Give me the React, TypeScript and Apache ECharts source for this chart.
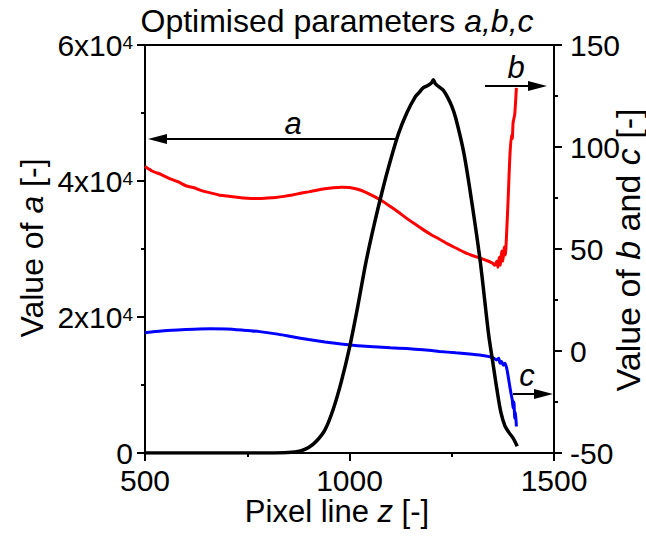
import React, { useEffect, useRef } from "react";
import * as echarts from "echarts";

// Series a (left axis)
const aZ = [500, 600, 700, 800, 850, 880, 900, 920, 940, 960, 980, 1000, 1020, 1040, 1060, 1080, 1100, 1120, 1140, 1160, 1170, 1180, 1190, 1200, 1205, 1210, 1220, 1230, 1240, 1250, 1260, 1280, 1300, 1320, 1340, 1350, 1360, 1370, 1380, 1390, 1400, 1410];
const aVals = [0, 0, 0, 0, 60, 300, 800, 1800, 3400, 6400, 10500, 15500, 21500, 28000, 33500, 38500, 43000, 47000, 50000, 52300, 53000, 53700, 54000, 54400, 54900, 54300, 53800, 53300, 52300, 51000, 49200, 44000, 36500, 28000, 17500, 13500, 9500, 6000, 4000, 3000, 2200, 1000];

// Series b (right axis)
const bZ = [500, 520, 540, 560, 580, 600, 620, 640, 660, 680, 700, 720, 740, 760, 780, 800, 820, 840, 860, 880, 900, 920, 940, 960, 980, 1000, 1020, 1040, 1060, 1080, 1100, 1120, 1140, 1160, 1180, 1200, 1220, 1240, 1260, 1280, 1300, 1320, 1340, 1350, 1355, 1360, 1363, 1366, 1369, 1372, 1375, 1378, 1381, 1384, 1388, 1392, 1396, 1398, 1400, 1404, 1408];
const bVals = [90.5, 88, 86.5, 84.5, 83, 81, 80, 78.5, 77.5, 76.5, 76, 75.5, 75, 74.8, 74.8, 75, 75.3, 75.8, 76.5, 77.3, 78, 78.8, 79.5, 80, 80.3, 80.2, 79.3, 77.8, 75.8, 73.5, 70.8, 68, 65, 62.2, 59.5, 57, 54.8, 52.5, 50.5, 48.5, 46.8, 45.5, 44, 43, 42, 44, 41, 46, 42, 49, 44, 51, 47, 57, 75, 95, 106, 104, 112, 116, 129];

// Series c (right axis)
const cZ = [500, 540, 580, 620, 660, 700, 740, 780, 820, 860, 900, 940, 980, 1020, 1060, 1100, 1140, 1180, 1220, 1260, 1300, 1330, 1350, 1360, 1365, 1368, 1372, 1376, 1380, 1385, 1390, 1395, 1398, 1400, 1402, 1404, 1406, 1408];
const cVals = [9, 9.8, 10.3, 10.7, 10.9, 10.8, 10.2, 9.5, 8.4, 7, 5.6, 4.4, 3.4, 2.6, 2.1, 1.6, 1.2, 0.6, -0.2, -0.9, -1.6, -2.3, -3.2, -4.4, -3.5, -6, -5.2, -7, -6, -9, -15, -21, -24, -28, -25, -33, -30, -37];

const FONT = "Liberation Sans, Arial, sans-serif";

const pairs = (xs: number[], ys: number[]) => xs.map((x, i) => [x, ys[i]]);

export default function App() {
  const ref = useRef<HTMLDivElement>(null);
  useEffect(() => {
    if (!ref.current) return;
    const chart = echarts.init(ref.current, undefined, { renderer: "svg" });
    const axisCommon = {
      axisLine: { show: true, lineStyle: { color: "#000", width: 2 } },
      axisTick: { show: true, length: 8, lineStyle: { color: "#000", width: 2 } },
      minorTick: { show: true, splitNumber: 2, length: 4, lineStyle: { color: "#000", width: 2 } },
      splitLine: { show: false },
      minorSplitLine: { show: false },
    };
    const labelStyle = { color: "#000", fontSize: 30, fontFamily: FONT, lineHeight: 24 };
    const rich = {
      n: { fontSize: 30, fontFamily: FONT, color: "#000", lineHeight: 24 },
      i: { fontSize: 30, fontFamily: FONT, fontStyle: "italic", color: "#000" },
      sup: { fontSize: 19, fontFamily: FONT, color: "#000", verticalAlign: "top", lineHeight: 14, padding: [0, 0, 12, 0] },
    };
    const arrow = (x1: number, x2: number, y: number, dir: number) => {
      const tip = x2;
      const base = tip - dir * 19;
      return [
        { type: "line", shape: { x1, y1: y, x2: base, y2: y }, style: { stroke: "#000", lineWidth: 2 } },
        { type: "polygon", shape: { points: [[tip, y], [base, y - 5], [base, y + 5]] }, style: { fill: "#000" } },
      ];
    };
    chart.setOption({
      animation: false,
      grid: { left: 145, right: 92, top: 45, bottom: 83, show: true, borderColor: "#000", borderWidth: 2, containLabel: false },
      xAxis: {
        type: "value", min: 500, max: 1500, interval: 500,
        ...axisCommon,
        axisLabel: { ...labelStyle, margin: 15, formatter: (v: number) => String(v) },
      },
      yAxis: [
        {
          type: "value", min: 0, max: 60000, interval: 20000, position: "left",
          ...axisCommon,
          axisLabel: {
            margin: 12,
            formatter: (v: number) => (v === 0 ? "{n|0}" : `{n|${v / 10000}x10}{sup|4}`),
            rich,
          },
        },
        {
          type: "value", min: -50, max: 150, interval: 50, position: "right",
          ...axisCommon,
          axisLabel: { ...labelStyle, margin: 16, formatter: (v: number) => String(v) },
        },
      ],
      series: [
        { type: "line", name: "b", yAxisIndex: 1, data: pairs(bZ, bVals), showSymbol: false, symbol: "none", lineStyle: { color: "#ff0000", width: 3 }, smooth: 0.2 },
        { type: "line", name: "c", yAxisIndex: 1, data: pairs(cZ, cVals), showSymbol: false, symbol: "none", lineStyle: { color: "#0000ff", width: 3 }, smooth: 0.2 },
        { type: "line", name: "a", yAxisIndex: 0, data: pairs(aZ, aVals), showSymbol: false, symbol: "none", lineStyle: { color: "#000", width: 3.5 }, smooth: 0.3 },
      ],
      graphic: [
        { type: "text", x: 337, y: 21, style: { text: "{n|Optimised parameters }{i|a,b,c}", align: "center", verticalAlign: "middle", rich: { n: { ...rich.n, fontSize: 32, lineHeight: 32 }, i: { ...rich.i, fontSize: 32 } } } },
        { type: "text", x: 337, y: 511, style: { text: "{n|Pixel line }{i|z}{n| [-]}", align: "center", verticalAlign: "middle", rich: { n: { ...rich.n, fontSize: 31, lineHeight: 30 }, i: { ...rich.i, fontSize: 31 } } } },
        { type: "text", x: 32, y: 248, rotation: Math.PI / 2, style: { text: "{n|Value of }{i|a}{n| [-]}", align: "center", verticalAlign: "middle", rich: { n: { ...rich.n, fontSize: 32, lineHeight: 30 }, i: { ...rich.i, fontSize: 32 } } } },
        { type: "text", x: 628, y: 250, rotation: Math.PI / 2, style: { text: "{n|Value of }{i|b}{n| and }{i|c}{n| [-]}", align: "center", verticalAlign: "middle", rich: { n: { ...rich.n, fontSize: 34, lineHeight: 30 }, i: { ...rich.i, fontSize: 34 } } } },
        ...arrow(395, 148, 139, -1),
        { type: "text", x: 293, y: 123, style: { text: "a", font: `italic 31px ${FONT}`, fill: "#000", align: "center", verticalAlign: "middle" } },
        ...arrow(485, 547, 86, 1),
        { type: "text", x: 516, y: 67, style: { text: "b", font: `italic 31px ${FONT}`, fill: "#000", align: "center", verticalAlign: "middle" } },
        ...arrow(513, 553, 394, 1),
        { type: "text", x: 527, y: 375, style: { text: "c", font: `italic 31px ${FONT}`, fill: "#000", align: "center", verticalAlign: "middle" } },
      ],
    });
    return () => chart.dispose();
  }, []);
  return <div ref={ref} style={{ width: 646, height: 536, position: "absolute", left: 0, top: 0 }} />;
}
